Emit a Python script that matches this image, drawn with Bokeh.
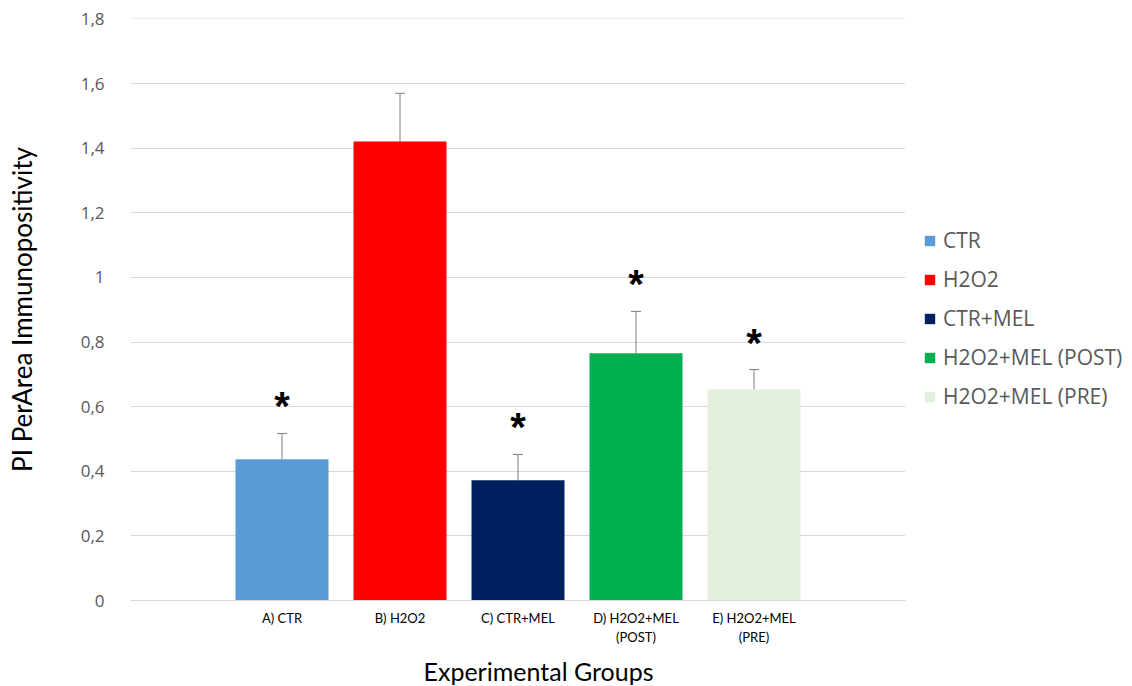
from bokeh.plotting import figure
from bokeh.models import (ColumnDataSource, FixedTicker, Legend, LegendItem,
                          Whisker, TeeHead, Range1d, Title)
from bokeh.core.properties import value
from bokeh.embed import file_html
from bokeh.resources import INLINE

# ---- data ----
groups = ["A) CTR", "B) H2O2", "C) CTR+MEL", "D) H2O2+MEL\n(POST)", "E) H2O2+MEL\n(PRE)"]
series = ["CTR", "H2O2", "CTR+MEL", "H2O2+MEL (POST)", "H2O2+MEL (PRE)"]
means = [0.437, 1.421, 0.372, 0.765, 0.653]
errors = [0.080, 0.149, 0.080, 0.130, 0.062]
significant = [True, False, True, True, True]
colors = ["#5B9BD5", "#FF0000", "#002060", "#00B050", "#E2EFDA"]
y_ticks = [0, 0.2, 0.4, 0.6, 0.8, 1.0, 1.2, 1.4, 1.6, 1.8]
y_tick_labels = ["0", "0,2", "0,4", "0,6", "0,8", "1", "1,2", "1,4", "1,6", "1,8"]

positions = list(range(len(groups)))
uppers = [m + e for m, e in zip(means, errors)]

src = ColumnDataSource(dict(x=positions, top=means, upper=uppers,
                            color=colors, series=series))
star_src = ColumnDataSource(dict(
    x=[p for p, s in zip(positions, significant) if s],
    y=[u for u, s in zip(uppers, significant) if s],
    t=["*" for s in significant if s]))

p = figure(frame_width=775, frame_height=582, output_backend="svg",
           toolbar_location=None,
           x_range=Range1d(-1.284, 5.284), y_range=Range1d(0, 1.8015),
           min_border_left=130, min_border_right=0, min_border_top=18,
           min_border_bottom=0)
p.outline_line_color = None
p.background_fill_color = "white"
p.border_fill_color = "white"

bars = p.vbar(x="x", top="top", width=0.788, bottom=0, source=src,
              fill_color="color", line_color=None)

w = Whisker(base="x", upper="upper", lower="top", source=src,
            line_color="#7F7F7F", line_width=1,
            upper_head=TeeHead(size=10, line_color="#7F7F7F", line_width=1),
            lower_head=None)
p.add_layout(w)

p.text(x="x", y="y", text="t", source=star_src, text_align="center",
       text_baseline="middle", y_offset=-27, text_font=value("Liberation Sans"),
       text_font_style="bold", text_font_size="40px", text_color="black")

# grid
p.xgrid.grid_line_color = None
p.ygrid.grid_line_color = "#D9D9D9"
p.ygrid.ticker = FixedTicker(ticks=y_ticks)

# y axis
p.yaxis.ticker = FixedTicker(ticks=y_ticks)
p.yaxis.major_label_overrides = {t: l for t, l in zip(y_ticks, y_tick_labels)}
p.yaxis.axis_line_color = None
p.yaxis.major_tick_line_color = None
p.yaxis.minor_tick_line_color = None
p.yaxis.major_label_text_font = "Open Sans"
p.yaxis.major_label_text_font_size = "17px"
p.yaxis.major_label_text_color = "#595959"
p.yaxis.major_label_standoff = 20
p.yaxis.axis_label = "PI PerArea Immunopositivity"
p.yaxis.axis_label_text_font = "Lato"
p.yaxis.axis_label_text_font_style = "normal"
p.yaxis.axis_label_text_font_size = "26px"
p.yaxis.axis_label_text_color = "black"
p.yaxis.axis_label_standoff = 40

# x axis
p.xaxis.ticker = FixedTicker(ticks=positions)
p.xaxis.major_label_overrides = {x: g for x, g in zip(positions, groups)}
p.xaxis.axis_line_color = "#D9D9D9"
p.xaxis.major_tick_line_color = None
p.xaxis.minor_tick_line_color = None
p.xaxis.major_label_text_font = "Lato"
p.xaxis.major_label_text_font_size = "13px"
p.xaxis.major_label_text_color = "black"
p.xaxis.major_label_standoff = 3

xtitle = Title(text="Experimental Groups", align="left", offset=293,
               text_font="Lato", text_font_style="normal",
               text_font_size="25px", text_color="black", standoff=12)
p.add_layout(xtitle, "below")

items = [LegendItem(label=s, renderers=[bars], index=i) for i, s in enumerate(series)]
legend = Legend(items=items, location=(18, 190), orientation="vertical",
                padding=0, margin=0, spacing=11, glyph_width=13, glyph_height=13,
                label_height=20, label_standoff=7,
                label_text_font="Open Sans", label_text_font_size="21px",
                label_text_color="#595959", border_line_color=None,
                background_fill_alpha=0)
p.add_layout(legend, "right")

open("out.html", "w").write(file_html(p, INLINE))
